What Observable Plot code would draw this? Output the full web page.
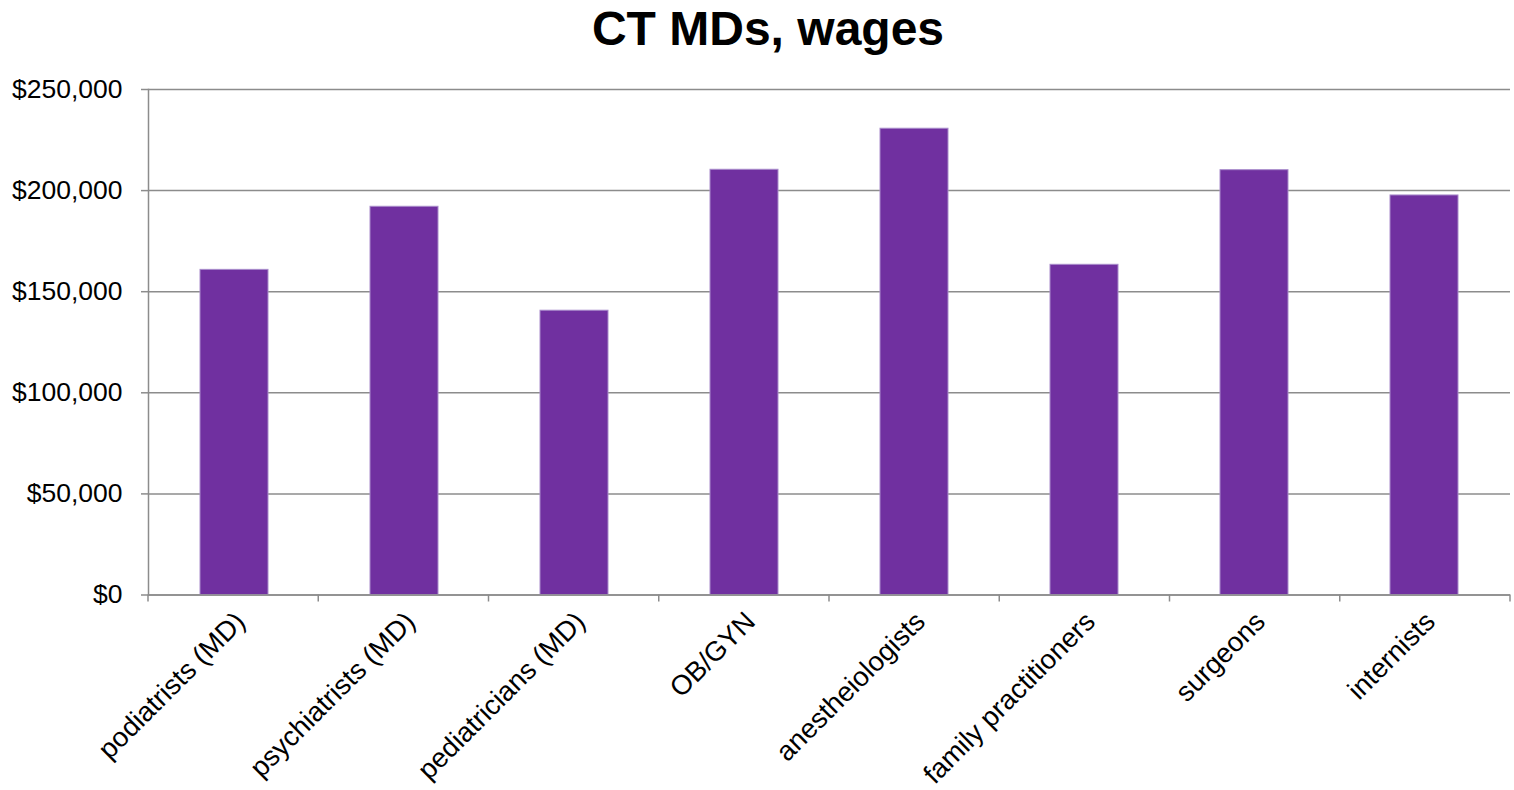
<!DOCTYPE html>
<html><head><meta charset="utf-8">
<script src="https://cdn.jsdelivr.net/npm/d3@7"></script>
<script src="https://cdn.jsdelivr.net/npm/@observablehq/plot@0.6"></script>
<style>
body{margin:0;background:#fff;font-family:"Liberation Sans",Arial,sans-serif;}
#wrap{position:relative;width:1514px;height:790px;overflow:hidden;background:#fff}
#title{position:absolute;left:11px;width:1514px;top:5px;text-align:center;font-weight:bold;font-size:48px;line-height:1;color:#000}
#chart{position:absolute;left:0;top:70px}
</style></head><body>
<div id="wrap"><div id="title">CT MDs, wages</div><div id="chart"></div></div>
<script>
const categories = ["podiatrists (MD)", "psychiatrists (MD)", "pediatricians (MD)", "OB/GYN", "anestheiologists", "family practitioners", "surgeons", "internists"];
const wages = [160800, 192000, 140600, 210300, 230600, 163300, 210100, 197600];
const yTicks = [0, 50000, 100000, 150000, 200000, 250000];

const data = categories.map((c, i) => ({category: c, wage: wages[i]}));
const fmt = d => "$" + d3.format(",")(d);
const gray = "#8c8c8c";

const chart = Plot.plot({
  width: 1514, height: 720,
  marginTop: 19, marginBottom: 195.5, marginLeft: 148, marginRight: 4,
  style: {fontFamily: "'Liberation Sans', Arial, sans-serif", fontSize: "26.5px", color: "#000", background: "#fff", overflow: "visible"},
  x: {domain: categories, paddingInner: 0.6, paddingOuter: 0.3},
  y: {domain: [0, 250000]},
  marks: [
    Plot.gridY(yTicks, {stroke: gray, strokeOpacity: 1, strokeWidth: 1.5}),
    Plot.barY(data, {x: "category", y: "wage", fill: "#7030A0", stroke: "#a98ccb", strokeWidth: 1}),
    Plot.axisY(yTicks, {tickFormat: fmt, tickSize: 7, tickPadding: 19, stroke: gray, strokeWidth: 1.5, fill: "#000", label: null}),
    Plot.axisX({tickRotate: -45, tickSize: 0, tickPadding: 22, dx: 6, fill: "#000", fontSize: 27.5, label: null}),
    Plot.ruleY([0], {stroke: gray, strokeWidth: 1.5}),
    Plot.frame({anchor: "left", stroke: gray, strokeWidth: 1.5})
  ]
});
document.getElementById("chart").appendChild(chart);

// category boundary ticks on the x axis, from Plot's own x scale
const sx = chart.scale("x");
const band = d3.scaleBand().domain(sx.domain).range(sx.range)
  .paddingInner(sx.paddingInner).paddingOuter(sx.paddingOuter).align(sx.align ?? 0.5);
const step = band.step();
const start = band(categories[0]) - (step - band.bandwidth()) / 2;
const y0 = chart.scale("y").apply ? chart.scale("y").apply(0) : 720 - 195.5;
const bounds = d3.range(categories.length + 1).map(i => start + i * step);
d3.select(chart).append("g")
  .selectAll("line").data(bounds).join("line")
  .attr("x1", d => d).attr("x2", d => d)
  .attr("y1", y0).attr("y2", y0 + 7)
  .attr("stroke", gray).attr("stroke-width", 1.5);
</script>
</body></html>
